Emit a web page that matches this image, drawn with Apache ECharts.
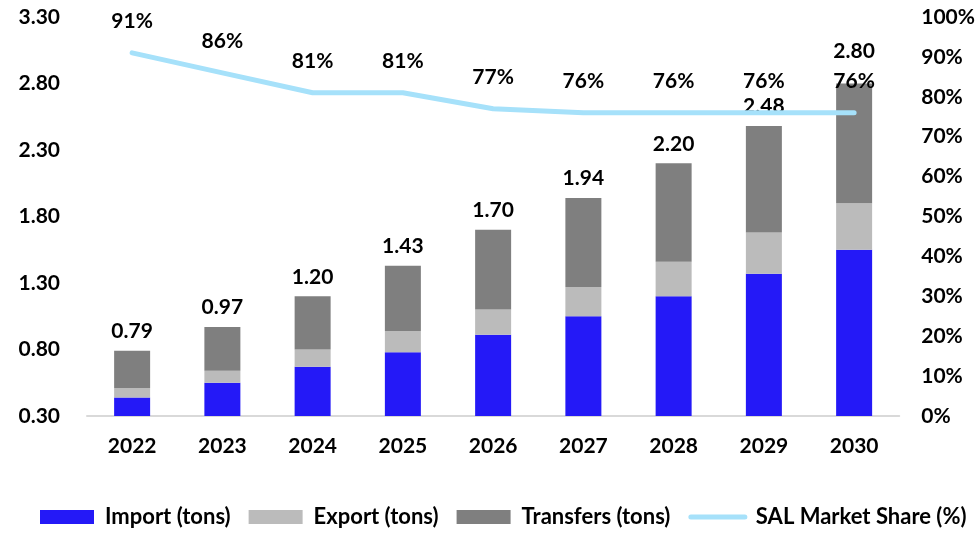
<!DOCTYPE html>
<html>
	<head>
		<title>SAL volumes</title>
		<meta charset="utf-8">
		<style>
html, body {
	width: 100%;
	height: 100%;
	margin: 0;
}
#box1 {
	width: 978px;
	height: 536px;
}
		</style>
	</head>
	<body>
		<div id="box1"></div>
	</body>
	<script src="https://cdn.jsdelivr.net/npm/echarts@6/dist/echarts.min.js"></script>
	<script type="text/javascript">
var years = ['2022', '2023', '2024', '2025', '2026', '2027', '2028', '2029', '2030'];
var importTons = [0.44, 0.55, 0.67, 0.78, 0.91, 1.05, 1.20, 1.37, 1.55];
var exportTons = [0.07, 0.09, 0.13, 0.16, 0.19, 0.22, 0.26, 0.31, 0.35];
var transferTons = [0.28, 0.33, 0.40, 0.49, 0.60, 0.67, 0.74, 0.80, 0.90];
var totals = [0.79, 0.97, 1.20, 1.43, 1.70, 1.94, 2.20, 2.48, 2.80];
var marketShare = [91, 86, 81, 81, 77, 76, 76, 76, 76];

var font = 'Lato';
var myChart = echarts.init(document.getElementById('box1'));

// the last total label sits higher, above the line
var transferData = transferTons.map(function (v, i) {
	if (i === transferTons.length - 1) {
		return { value: v, label: { distance: 22 } };
	}
	return v;
});

var option = {
	backgroundColor: '#fff',
	textStyle: { fontFamily: font },
	grid: { left: 87, right: 75, top: 17, bottom: 120 },
	legend: {
		bottom: 3,
		left: 35,
		itemGap: 18,
		itemWidth: 54,
		itemHeight: 14,
		textStyle: { fontFamily: font, fontWeight: 'bold', fontSize: 22, color: '#000', padding: [0, 0, 0, 6] },
		data: [
			{ name: 'Import (tons)', icon: 'rect' },
			{ name: 'Export (tons)', icon: 'rect' },
			{ name: 'Transfers (tons)', icon: 'rect' },
			{
				name: 'SAL Market Share (%)',
				itemStyle: { opacity: 0 },
				lineStyle: { width: 5, cap: 'round', color: '#a6e1fa' }
			}
		]
	},
	xAxis: {
		type: 'category',
		data: years,
		axisTick: { show: false },
		axisLine: { lineStyle: { color: '#d9d9d9', width: 2 } },
		axisLabel: { fontFamily: font, fontWeight: 'bold', fontSize: 21, color: '#000', margin: 20 }
	},
	yAxis: [{
		type: 'value',
		min: 0.3,
		max: 3.3,
		interval: 0.5,
		splitLine: { show: false },
		axisLine: { show: false },
		axisLabel: {
			fontFamily: font, fontWeight: 'bold', fontSize: 21, color: '#000',
			margin: 27,
			formatter: function (v) { return v.toFixed(2); }
		}
	}, {
		type: 'value',
		min: 0,
		max: 100,
		interval: 10,
		splitLine: { show: false },
		axisLine: { show: false },
		axisLabel: {
			fontFamily: font, fontWeight: 'bold', fontSize: 21, color: '#000',
			margin: 22,
			formatter: '{value}%'
		}
	}],
	series: [{
		name: 'Import (tons)',
		type: 'bar',
		stack: 'tons',
		barWidth: 36,
		itemStyle: { color: '#2419f7' },
		data: importTons
	}, {
		name: 'Export (tons)',
		type: 'bar',
		stack: 'tons',
		itemStyle: { color: '#bbbbbb' },
		data: exportTons
	}, {
		name: 'Transfers (tons)',
		type: 'bar',
		stack: 'tons',
		itemStyle: { color: '#7f7f7f' },
		label: {
			show: true,
			position: 'top',
			distance: 9,
			fontFamily: font, fontWeight: 'bold', fontSize: 21, color: '#000',
			formatter: function (p) { return totals[p.dataIndex].toFixed(2); }
		},
		data: transferData
	}, {
		name: 'SAL Market Share (%)',
		type: 'line',
		yAxisIndex: 1,
		symbol: 'circle',
		symbolSize: 2,
		showSymbol: true,
		z: 5,
		lineStyle: { color: '#a6e1fa', width: 5, cap: 'round' },
		itemStyle: { color: '#a6e1fa' },
		label: {
			show: true,
			position: 'top',
			distance: 20,
			fontFamily: font, fontWeight: 'bold', fontSize: 21, color: '#000',
			formatter: '{c}%'
		},
		data: marketShare
	}]
};

myChart.setOption(option);
	</script>
</html>
